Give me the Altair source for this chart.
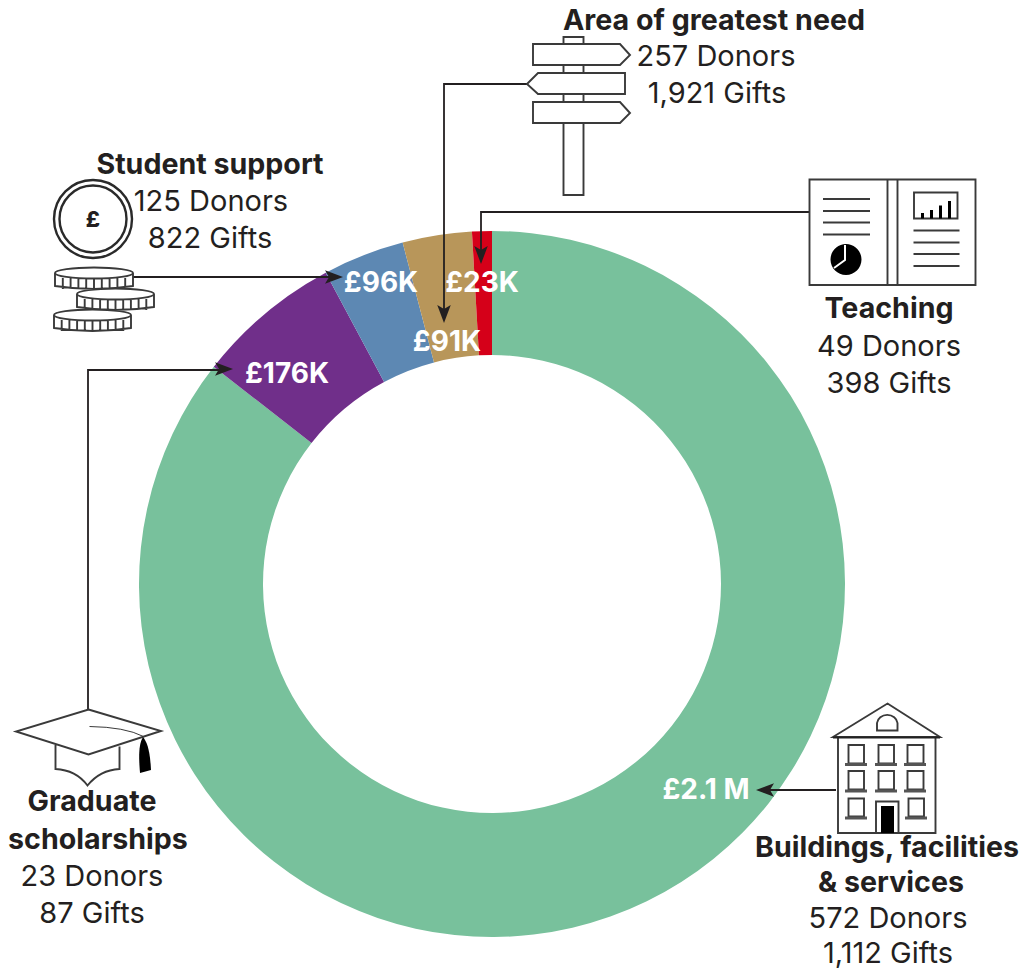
import altair as alt
import pandas as pd

# ---- donut data (K£; labels as printed)
segments = ["Buildings, facilities & services", "Graduate scholarships", "Student support",
            "Area of greatest need", "Teaching"]
amounts = [2268, 176, 99, 84, 24]
seg_colors = ["#78C19C", "#702F8A", "#5D88B3", "#B8965A", "#D50019"]

value_labels = ["£2.1 M", "£176K", "£96K", "£91K", "£23K"]
value_x = [706, 287, 381, 447, 482]
value_y = [799, 383, 292, 351, 292]

head_text = ["Area of greatest need", "Student support", "Teaching", "Graduate", "scholarships",
             "Buildings, facilities", "& services"]
head_x = [714, 210, 889, 92, 98, 887, 891]
head_y = [29.5, 174, 318, 811, 849, 857, 892]

body_text = ["257 Donors", "1,921 Gifts", "125 Donors", "822 Gifts", "49 Donors", "398 Gifts",
             "23 Donors", "87 Gifts", "572 Donors", "1,112 Gifts"]
body_x = [716, 717, 211, 210, 889, 889, 92, 92, 888, 888]
body_y = [66, 103, 211, 248, 356, 393, 886, 923, 928, 963]

# ---- leader lines (image coordinates)
leader_id = [0, 0, 0, 1, 1, 2, 2, 2, 3, 3, 3, 4, 4]
leader_x = [88, 88, 220, 133, 330, 527, 444, 444, 809, 481, 481, 836, 770]
leader_y = [710, 370, 370, 277, 277, 84, 84, 310, 212, 212, 250, 790, 790]

head_pos_x = [224, 334, 444, 481, 765]
head_pos_y = [369, 277, 314, 255, 790]
head_angle = [90, 90, 180, 180, 270]

# ---- icons as SVG paths
def rect(x0, y0, x1, y1):
    return f"M{x0},{y0}L{x1},{y0}L{x1},{y1}L{x0},{y1}Z"

def hline(x0, x1, y):
    return f"M{x0},{y}L{x1},{y}"

def circle(cx, cy, r):
    return f"M{cx-r},{cy}A{r},{r} 0 1 1 {cx+r},{cy}A{r},{r} 0 1 1 {cx-r},{cy}Z"

def coin(x0, x1, ytop, ybot, n=10):
    ry = 5.5
    cy = ytop
    p = f"M{x0},{cy}A{(x1-x0)/2},{ry} 0 1 1 {x1},{cy}A{(x1-x0)/2},{ry} 0 1 1 {x0},{cy}Z"
    p += f"M{x0},{cy}L{x0},{ybot-3}Q{(x0+x1)/2},{ybot+3} {x1},{ybot-3}L{x1},{cy}"
    step = (x1 - x0) / n
    for i in range(1, n):
        xx = x0 + i * step
        p += f"M{xx:.1f},{cy+5}L{xx:.1f},{ybot}"
    return p

sign_path = (
    "M563.5,44L563.5,37L583.5,37L583.5,44"
    "M563.5,65L563.5,73M583.5,65L583.5,73"
    "M563.5,94L563.5,102M583.5,94L583.5,102"
    "M563.5,123L563.5,195L583.5,195L583.5,123"
    "M533,44L620,44L630,55L620,65L533,65Z"
    "M527,84L538,73L625,73L625,94L538,94Z"
    "M533,102L620,102L630,113L620,123L533,123Z"
)
coin_ring = circle(93, 219, 39) + circle(93, 219, 33.5)
coin_path = coin(55, 133, 273, 289) + coin(77, 154, 294, 310) + coin(54, 131, 315, 331)
book_path = (
    rect(809.5, 179.5, 975.5, 285) + "M887.5,179.5L887.5,285M897.5,179.5L897.5,285"
    + "".join(hline(823, 870, y) for y in [199, 211, 222.5, 234.5])
    + rect(914, 192.5, 957.5, 218.5)
    + "".join(hline(913.5, 959.5, y) for y in [230.5, 242.5, 254, 266])
)
book_fill = circle(846, 259.5, 15.5) + "".join(rect(x, y, x + 3, 218.5) for x, y in
                                               [(921, 213), (930, 210), (939, 205.5), (948, 201)])
book_white = "M845,245L845,260L834,268"
cap_path = (
    "M88.5,709.5L161,731L88.5,754.5L16,731.5Z"
    "M55.5,745L55.5,769Q76,770 87.5,785.5Q100,770 119.5,769L119.5,746.5"
)
cap_cord = "M89.5,726.5Q125,727 143.5,736.5"
cap_fill = "M143,737C147,742 150,750 151,770L140,773C139,760 138,745 143,737Z"

win_x = [(848.5, 864), (878.5, 894), (907.5, 923.5)]
house_path = (
    "M887.5,703.5L940,737L833,737Z"
    + rect(838, 737, 935.5, 833)
    + "M877,730.5L877,723A10.3,9 0 0 1 897.5,723L897.5,730.5Z"
    + "".join(rect(a, 745, b, 763.5) + rect(a, 771, b, 789.5) for a, b in win_x)
    + rect(848.5, 798.5, 864, 816.5) + rect(908.5, 798.5, 924, 816.5)
    + "M876,833L876,801.5L898.5,801.5L898.5,833"
)
house_roof = hline(833, 940, 737.5)
house_sills = "".join(
    hline(a, b, y)
    for y in [764.5, 791]
    for a, b in [(845, 867), (875, 897), (904, 926)]
) + hline(845, 867, 818) + hline(905, 927, 818)
house_door = rect(881, 806, 894, 833)

outline_paths = [sign_path, coin_path, book_path, cap_path, house_path]
ring_paths = [coin_ring]
heavy_paths = [house_sills]
thin_paths = [cap_cord]
solid_paths = [book_fill, cap_fill, house_door]

INK = "#231F20"
W, H = 1017, 960
x_scale = alt.Scale(domain=[8, 8 + W], range=[0, W])
y_scale = alt.Scale(domain=[8, 8 + H], range=[0, H])
X = alt.X("x:Q", scale=x_scale, axis=None)
Y = alt.Y("y:Q", scale=y_scale, axis=None)
FONT = "Inter"

seg_df = pd.DataFrame({"segment": segments, "amount": amounts, "idx": range(len(segments))})
donut = alt.Chart(seg_df).mark_arc(innerRadius=229, outerRadius=353).encode(
    theta=alt.Theta("amount:Q", stack=True),
    order=alt.Order("idx:Q"),
    color=alt.Color("segment:N", scale=alt.Scale(domain=segments, range=seg_colors), legend=None),
    x=alt.value(484),
    y=alt.value(576),
)

def text_layer(labels, xs, ys, color, weight, size=28):
    df = pd.DataFrame({"t": labels, "x": xs, "y": ys})
    return alt.Chart(df).mark_text(
        font=FONT, fontSize=size, fontWeight=weight, color=color, align="center", baseline="alphabetic"
    ).encode(x=X, y=Y, text="t:N")

def icon_layer(paths, sw=1.9, stroke="#3a3a3a", fill=None):
    df = pd.DataFrame({"p": paths})
    kw = dict(filled=False, stroke=stroke, strokeWidth=sw) if fill is None else dict(filled=True, fill=fill, strokeWidth=0)
    return alt.Chart(df).mark_point(size=4, opacity=1, **kw).encode(
        shape=alt.Shape("p:N", scale=None, legend=None),
        x=alt.value(-8),
        y=alt.value(-8),
    )

lead_df = pd.DataFrame({"id": leader_id, "x": leader_x, "y": leader_y, "s": range(len(leader_id))})
leaders = alt.Chart(lead_df).mark_line(color=INK, strokeWidth=1.8, interpolate="linear").encode(
    x=X, y=Y, detail="id:N", order="s:Q"
)

arrow_shape = "M0,-1L0.75,1L0,0.55L-0.75,1Z"
arrow_df = pd.DataFrame({"x": head_pos_x, "y": head_pos_y, "a": head_angle})
arrows = alt.Chart(arrow_df).mark_point(
    shape=arrow_shape, size=324, filled=True, fill=INK, opacity=1, strokeWidth=0
).encode(x=X, y=Y, angle=alt.Angle("a:Q", scale=None))

pound = text_layer(["£"], [93], [227], INK, 800, 22)

chart = alt.layer(
    donut,
    text_layer(value_labels, value_x, value_y, "white", 700),
    leaders,
    arrows,
    icon_layer(outline_paths),
    icon_layer(ring_paths, sw=2.4, stroke="#2a2a2a"),
    icon_layer(heavy_paths, sw=3, stroke="#555555"),
    icon_layer(thin_paths, sw=1),
    icon_layer(solid_paths, fill="black"),
    icon_layer([book_white], sw=2, stroke="white"),
    icon_layer([house_roof], sw=2.2, stroke="#222222"),
    pound,
    text_layer(head_text, head_x, head_y, INK, 700, 28.6),
    text_layer(body_text, body_x, body_y, INK, 400, 29),
).properties(
    width=W, height=H, padding=0, autosize=alt.AutoSizeParams(type="none"), background="white"
).configure_view(stroke=None)

chart.save("out.html", embed_options={"renderer": "svg", "actions": False})
